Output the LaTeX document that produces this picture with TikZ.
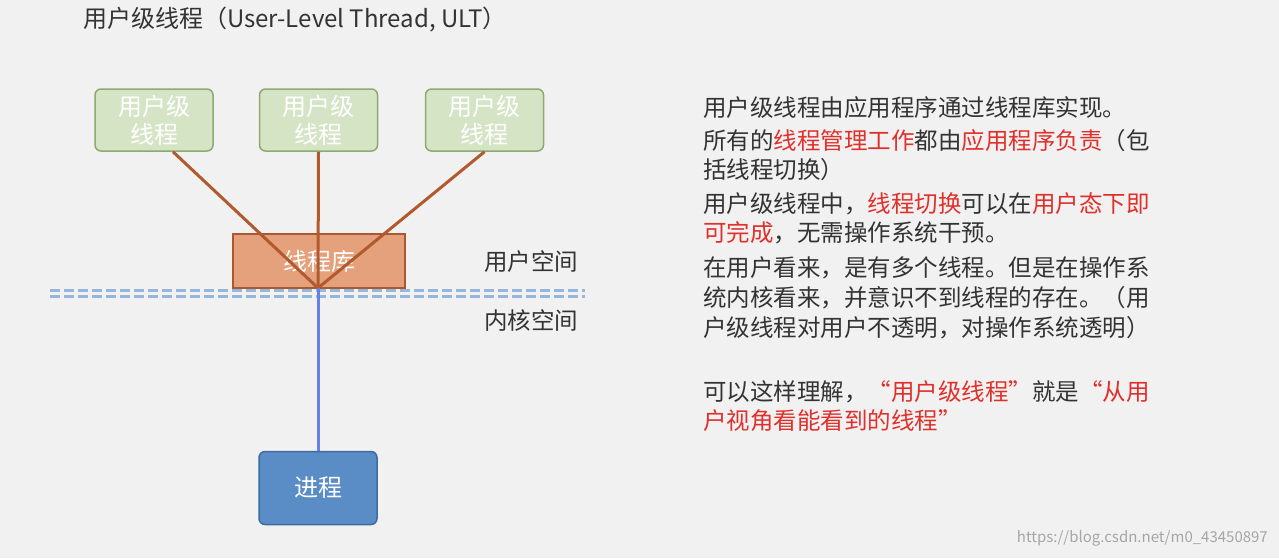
\documentclass[tikz,border=0pt]{standalone}
\usepackage{fontspec}
\setmainfont{Noto Sans CJK SC}
\usepackage{xcolor}
\usetikzlibrary{positioning}
\definecolor{bgray}{HTML}{F1F1F1}
\definecolor{ultgreen}{HTML}{D6E4C6}
\definecolor{ultedge}{HTML}{8CAA72}
\definecolor{libfill}{HTML}{E5A07C}
\definecolor{libedge}{HTML}{A9582F}
\definecolor{linkbrown}{HTML}{B05A2E}
\definecolor{procfill}{HTML}{5A8CC6}
\definecolor{procedge}{HTML}{3F6C9E}
\definecolor{sepblue}{HTML}{94B7DB}
\definecolor{txtgray}{HTML}{333333}
\definecolor{hired}{HTML}{E0302B}
\newcommand{\hl}[1]{\textcolor{hired}{#1}}
\begin{document}
\begin{tikzpicture}[x=1pt,y=-1pt,
  ultbox/.style={draw=ultedge, fill=ultgreen, rounded corners=6pt, line width=1.5pt,
    minimum width=118pt, minimum height=62pt, align=center, text=white,
    font=\fontsize{24}{28}\selectfont},
  libbox/.style={draw=libedge, fill=libfill, line width=1.5pt,
    minimum width=172pt, minimum height=54pt, text=white, font=\fontsize{24}{28}\selectfont},
  procbox/.style={draw=procedge, fill=procfill, rounded corners=6pt, line width=1.5pt,
    minimum width=118pt, minimum height=73pt, text=white, font=\fontsize{24}{28}\selectfont},
  link/.style={linkbrown, line width=3pt},
  txt/.style={anchor=west, inner sep=0pt, text=txtgray, font=\fontsize{23.5}{28}\selectfont}]
\fill[bgray] (0,0) rectangle (1279,558);
\useasboundingbox (0,0) rectangle (1279,558);
% title
\node[txt, font=\fontsize{24}{28}\selectfont] (title) at (83,20) {用户级线程（User-Level Thread, ULT）};
% user level threads and library
\node[ultbox] (u1) at (154,120) {用户级\\线程};
\node[ultbox] (u2) at (318.5,120) {用户级\\线程};
\node[ultbox] (u3) at (484.5,120) {用户级\\线程};
\node[libbox] (lib) at (319,261) {线程库};
\coordinate (hub) at (318,288);
\draw[link] (u1.south) ++(19,0) -- (hub);
\draw[link] (u2.south) -- (hub);
\draw[link] (u3.south) -- (hub);
% separator
\draw[sepblue, line width=3pt, dash pattern=on 10pt off 4pt] (50,290) -- (585,290);
\draw[sepblue, line width=3pt, dash pattern=on 10pt off 4pt] (50,296) -- (585,296);
\node[txt] (us) at (484,262) {用户空间};
\node[txt] (ks) at (484,321) {内核空间};
% process
\node[procbox] (proc) at (318,488) {进程};
\draw[sepblue!70!blue, line width=3pt] (hub) -- (proc.north);
% explanation
\node[txt] (l1) at (703,108) {用户级线程由应用程序通过线程库实现。};
\node[txt] (l2) at (703,141) {所有的\hl{线程管理工作}都由\hl{应用程序负责}（包};
\node[txt] (l3) at (703,170) {括线程切换）};
\node[txt] (l4) at (703,204) {用户级线程中，\hl{线程切换}可以在\hl{用户态下即}};
\node[txt] (l5) at (703,233) {\hl{可完成}，无需操作系统干预。};
\node[txt] (l6) at (703,268) {在用户看来，是有多个线程。但是在操作系};
\node[txt] (l7) at (703,298) {统内核看来，并意识不到线程的存在。（用};
\node[txt] (l8) at (703,328) {户级线程对用户不透明，对操作系统透明）};
\node[txt] (l9) at (703,392) {可以这样理解，\hl{“用户级线程”}就是\hl{“从用}};
\node[txt] (l10) at (703,421) {\hl{户视角看能看到的线程”}};
% watermark
\node[txt, text=gray!70, font=\fontsize{15}{17}\selectfont, anchor=east] (wm) at (1268,538) {https://blog.csdn.net/m0\_43450897};
\end{tikzpicture}
\end{document}
